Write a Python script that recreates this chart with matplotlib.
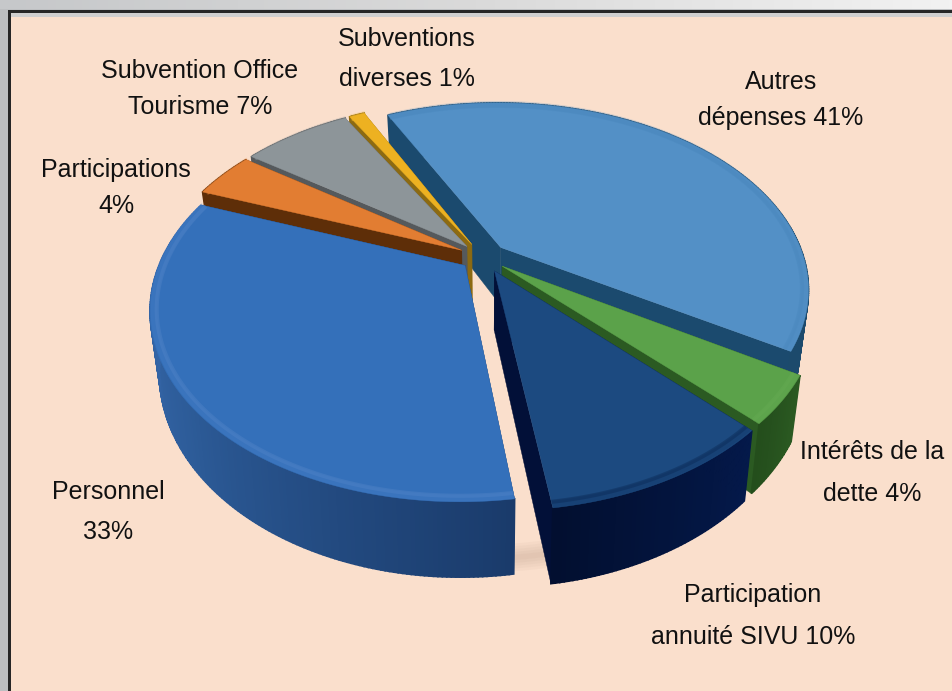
#!/usr/bin/env python

"""Budget breakdown drawn as an exploded 3D pie, with a small perspective model."""

import numpy as np
import matplotlib
matplotlib.use("Agg")
import matplotlib.pyplot as plot
from matplotlib.colors import LinearSegmentedColormap
from matplotlib.patches import Rectangle

categories = ["Autres dépenses", "Intérêts de la dette", "Participation annuité SIVU",
              "Personnel", "Participations", "Subvention Office Tourisme",
              "Subventions diverses"]
values = [41, 4, 10, 33, 4, 7, 1]
labels = ["Autres\ndépenses 41%", "Intérêts de la\ndette 4%",
          "Participation\nannuité SIVU 10%", "Personnel\n33%", "Participations\n4%",
          "Subvention Office\nTourisme 7%", "Subventions\ndiverses 1%"]

# styling, same order as the values
explode = [0.08, 0.08, 0.085, 0.075, 0.08, 0.08, 0.08]
top_colors = ["#5390C6", "#5BA24A", "#1C4A80", "#3470BA", "#E27D32", "#8D9599", "#EDB121"]
rim_colors = ["#4A88BE", "#64AA52", "#0B2A56", "#4F82C6", "#E27D32", "#8D9599", "#EDB121"]
wall_colors = [["#1B4A6E", "#1C4A6C"], ["#2B5A22", "#244E1C"], ["#04194A", "#020F30"],
               ["#1A3B6B", "#2D5C99", "#3C6FB5"], ["#5E2E08", "#5E2E08"],
               ["#55595C", "#55595C"], ["#8C6A12", "#8C6A12"]]
side_colors = ["#1B4A6E", "#2B5A22", "#021038", "#1A3B6B", "#5E2E08", "#55595C", "#8C6A12"]
label_spots = [(781, 100, 1.62), (872, 473, 1.95), (753, 616, 1.95), (108, 512, 1.8),
               (116, 188, 1.6), (200, 89, 1.66), (407, 59, 1.88)]

start_angle = 116.0
center_x, center_y = 483.0, 257.0
radius_x, radius_y = 303.0, 180.0
perspective = 0.22
thickness = 58.0
taper = 0.028


def project(u, v, z=0.0):
    """Disk coordinates to pixels, z=1 is the bottom of the slab."""
    w = 1 + perspective * v
    x = radius_x * u / w * (1 - taper * z)
    return center_x + x, center_y - radius_y * v / w + thickness * z / w


def draw_slice(axes, a0, a1, shift, number, order):
    du = shift * np.cos(np.radians((a0 + a1) / 2))
    dv = shift * np.sin(np.radians((a0 + a1) / 2))
    thetas = np.radians(np.linspace(a0, a1, max(8, int(abs(a1 - a0) * 1.5))))
    us = du + np.cos(thetas)
    vs = dv + np.sin(thetas)

    # the two flat sides
    for u, v in [(us[0], vs[0]), (us[-1], vs[-1])]:
        xt, yt = project(np.array([du, u]), np.array([dv, v]))
        xb, yb = project(np.array([du, u]), np.array([dv, v]), 1.0)
        axes.fill(np.r_[xt, xb[::-1]], np.r_[yt, yb[::-1]], color=side_colors[number],
                  lw=0.3, zorder=order)

    # outer wall, in short pieces for the gradient
    cmap = LinearSegmentedColormap.from_list("wall", wall_colors[number])
    xt, yt = project(us, vs)
    xb, yb = project(us, vs, 1.0)
    for i in range(len(thetas) - 1):
        color = cmap(i / (len(thetas) - 2))
        axes.fill([xt[i], xt[i + 1], xb[i + 1], xb[i]], [yt[i], yt[i + 1], yb[i + 1], yb[i]],
                  color=color, lw=1.2, zorder=order + 0.1)

    # top face
    x0, y0 = project(du, dv)
    axes.fill(np.r_[x0, xt], np.r_[y0, yt], color=top_colors[number], lw=0.3,
              zorder=order + 0.2)

    # soft bevel along the rim
    for inset, width, alpha in [(0.012, 5, 0.25), (0.02, 3, 0.45)]:
        xr, yr = project(du + (1 - inset) * np.cos(thetas), dv + (1 - inset) * np.sin(thetas))
        axes.plot(xr, yr, color=rim_colors[number], lw=width, alpha=alpha,
                  solid_capstyle="butt", zorder=order + 0.3)


def main():
    plot.rcParams["font.family"] = ["Liberation Sans", "DejaVu Sans"]

    figure = plot.figure(figsize=(9.53, 6.91), dpi=100)
    axes = figure.add_axes([0, 0, 1, 1])
    axes.axis("off")

    # window frame around the panel
    axes.add_patch(Rectangle((0, 0), 953, 691, color="#BDBFC1", lw=0, zorder=0))
    band = LinearSegmentedColormap.from_list("band", ["#C6C8CA", "#DADADA", "#F2F2F2"])
    axes.imshow(np.linspace(0, 1, 256).reshape(1, -1), cmap=band, aspect="auto",
                extent=(0, 953, 9, 0), zorder=0.1)
    axes.set_xlim(0, 953)
    axes.set_ylim(691, 0)
    axes.add_patch(Rectangle((8, 10), 945, 681, color="#262626", lw=0, zorder=0.2))
    axes.add_patch(Rectangle((11, 13), 942, 678, color="#CFCFCF", lw=0, zorder=0.3))
    axes.add_patch(Rectangle((11, 17), 942, 674, color="#FADFCC", lw=0, zorder=0.4))

    # soft shadow under the slab
    thetas = np.radians(np.linspace(-215, 25, 200))
    xs, ys = project(1.0 * np.cos(thetas), 1.0 * np.sin(thetas), 0.95)
    for width in [4, 8, 12, 16, 20]:
        axes.plot(xs, ys, color="#9A7A66", lw=width, alpha=0.05, solid_capstyle="round",
                  zorder=0.5)

    # angles run clockwise from the start angle
    edges = start_angle - np.cumsum([0] + values) * 3.6
    for order, number in enumerate([0, 6, 5, 4, 1, 2, 3]):
        draw_slice(axes, edges[number], edges[number + 1], explode[number], number, order + 1)

    for label, (x, y, spacing) in zip(labels, label_spots):
        axes.text(x, y, label, ha="center", va="center", fontsize=18, color="#111111",
                  linespacing=spacing, zorder=20)

    figure.savefig("out.png", dpi=100)


if __name__ == "__main__":
    main()
